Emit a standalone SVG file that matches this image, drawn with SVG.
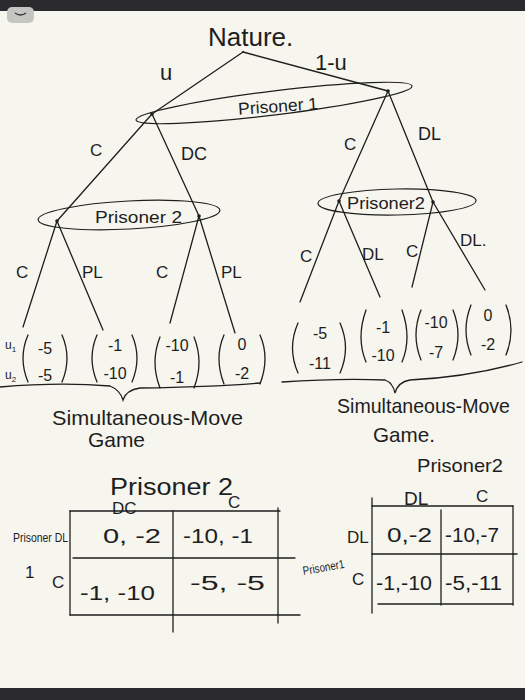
<svg xmlns="http://www.w3.org/2000/svg" width="525" height="700" viewBox="0 0 525 700">
<style>
  .ln{stroke:#1e1e1e;stroke-width:1.3;fill:none;stroke-linecap:round}
  .el{stroke:#1e1e1e;stroke-width:1.2;fill:none}
  .t{font-family:"Liberation Sans","DejaVu Sans",sans-serif;fill:#1e1e1e}
  .lbl{font-size:17px}
  .big{font-size:21px}
  .num{font-size:16px;text-anchor:middle}
  .cell{font-size:20px}
  .dot{fill:#1e1e1e}
</style>
<rect x="0" y="0" width="525" height="700" fill="#f6f5ee"/>
<rect x="0" y="0" width="525" height="11" fill="#2b2b2d"/>
<rect x="0" y="688" width="525" height="12" fill="#2b2b2d"/>
<rect x="7" y="7" width="27" height="16" rx="5" fill="#c5c5c2"/>
<path d="M15 13 Q20.5 17 26 13" stroke="#333" stroke-width="1.5" fill="none"/>

<g id="connectors">
  <line class="ln" x1="243" y1="52" x2="152" y2="114"/>
  <line class="ln" x1="243" y1="52" x2="388" y2="91"/>
  <line class="ln" x1="152" y1="114" x2="57" y2="221"/>
  <line class="ln" x1="152" y1="114" x2="199" y2="216"/>
  <line class="ln" x1="388" y1="91" x2="339" y2="201"/>
  <line class="ln" x1="388" y1="91" x2="433" y2="202"/>
  <line class="ln" x1="57" y1="221" x2="23" y2="327"/>
  <line class="ln" x1="57" y1="221" x2="103" y2="330"/>
  <line class="ln" x1="199" y1="216" x2="170" y2="323"/>
  <line class="ln" x1="199" y1="216" x2="235" y2="333"/>
  <line class="ln" x1="339" y1="201" x2="300" y2="302"/>
  <line class="ln" x1="339" y1="201" x2="380" y2="297"/>
  <line class="ln" x1="433" y1="202" x2="412" y2="287"/>
  <line class="ln" x1="433" y1="202" x2="485" y2="290"/>
  <text class="t" font-size="22" x="160" y="80">u</text>
  <text class="t" font-size="22" x="315" y="70">1-u</text>
  <text class="t lbl" x="90" y="156">C</text>
  <text class="t" font-size="18" x="181" y="160">DC</text>
  <text class="t lbl" x="344" y="150">C</text>
  <text class="t" font-size="18" x="418" y="140">DL</text>
  <text class="t lbl" x="16" y="278">C</text>
  <text class="t lbl" x="82" y="278">PL</text>
  <text class="t lbl" x="156" y="278">C</text>
  <text class="t lbl" x="221" y="278">PL</text>
  <text class="t lbl" x="300" y="262">C</text>
  <text class="t lbl" x="362" y="260">DL</text>
  <text class="t lbl" x="406" y="257">C</text>
  <text class="t lbl" x="460" y="246">DL.</text>
</g>

<g id="nature">
  <text class="t" font-size="26" x="208" y="46">Nature.</text>
  <circle class="dot" cx="243" cy="52" r="1"/>
</g>

<g id="prisoner1">
  <ellipse class="el" cx="274" cy="103" rx="139" ry="12" transform="rotate(-7 274 103)"/>
  <text class="t lbl" x="238" y="112" transform="rotate(-4 278 106)" textLength="80" lengthAdjust="spacingAndGlyphs">Prisoner 1</text>
  <circle class="dot" cx="152" cy="114" r="1.8"/>
  <circle class="dot" cx="388" cy="91" r="1.8"/>
</g>

<g id="prisoner2-left">
  <ellipse class="el" cx="129" cy="215" rx="91" ry="14" transform="rotate(-3 129 215)"/>
  <text class="t lbl" x="95" y="223" textLength="87" lengthAdjust="spacingAndGlyphs">Prisoner 2</text>
  <circle class="dot" cx="57" cy="221" r="1.8"/>
  <circle class="dot" cx="199" cy="216" r="1.8"/>
</g>

<g id="prisoner2-right">
  <ellipse class="el" cx="397" cy="202" rx="79" ry="13" transform="rotate(-1 397 202)"/>
  <text class="t lbl" x="347" y="209" textLength="78" lengthAdjust="spacingAndGlyphs">Prisoner2</text>
  <circle class="dot" cx="339" cy="201" r="1.8"/>
  <circle class="dot" cx="433" cy="202" r="1.8"/>
</g>

<g id="payoffs-left">
  <text class="t" font-size="12" x="5" y="349">u<tspan font-size="8" dy="3">1</tspan></text>
  <text class="t" font-size="12" x="5" y="379">u<tspan font-size="8" dy="3">2</tspan></text>
  <path class="ln" d="M28 335 Q18 358 28 382 M62 335 Q72 358 62 382"/>
  <text class="t num" x="45" y="354">-5</text>
  <text class="t num" x="45" y="381">-5</text>
  <path class="ln" d="M97 335 Q87 358 97 382 M132 335 Q142 358 132 382"/>
  <text class="t num" x="115" y="351">-1</text>
  <text class="t num" x="115" y="379">-10</text>
  <path class="ln" d="M160 337 Q150 362 160 388 M194 337 Q204 362 194 388"/>
  <text class="t num" x="177" y="351">-10</text>
  <text class="t num" x="177" y="383">-1</text>
  <path class="ln" d="M224 335 Q214 358 224 384 M260 335 Q270 358 260 384"/>
  <text class="t num" x="242" y="350">0</text>
  <text class="t num" x="242" y="379">-2</text>
  <path class="ln" d="M0 387 Q60 382 110 386 Q120 390 123 400 Q126 390 140 388 Q210 387 260 383"/>
  <text class="t big" x="52" y="425" textLength="191" lengthAdjust="spacingAndGlyphs">Simultaneous-Move</text>
  <text class="t big" x="88" y="447" textLength="57" lengthAdjust="spacingAndGlyphs">Game</text>
</g>

<g id="payoffs-right">
  <path class="ln" d="M298 323 Q287 348 298 373 M340 323 Q351 348 340 373"/>
  <text class="t num" x="320" y="339">-5</text>
  <text class="t num" x="320" y="369">-11</text>
  <path class="ln" d="M366 310 Q356 338 366 362 M402 310 Q412 338 402 362"/>
  <text class="t num" x="383" y="333">-1</text>
  <text class="t num" x="383" y="361">-10</text>
  <path class="ln" d="M421 310 Q411 335 421 360 M453 310 Q463 335 453 360"/>
  <text class="t num" x="436" y="328">-10</text>
  <text class="t num" x="436" y="358">-7</text>
  <path class="ln" d="M471 305 Q461 330 471 355 M506 305 Q516 330 506 355"/>
  <text class="t num" x="488" y="321">0</text>
  <text class="t num" x="488" y="350">-2</text>
  <path class="ln" d="M282 382 Q340 378 385 380 Q393 383 395 393 Q398 382 410 380 Q470 377 522 362"/>
  <text class="t big" x="337" y="413" textLength="173" lengthAdjust="spacingAndGlyphs">Simultaneous-Move</text>
  <text class="t big" x="373" y="442" textLength="62" lengthAdjust="spacingAndGlyphs">Game.</text>
</g>

<g id="table-left">
  <text class="t" font-size="23" x="110" y="495" textLength="123" lengthAdjust="spacingAndGlyphs">Prisoner 2</text>
  <text class="t lbl" x="112" y="514">DC</text>
  <text class="t lbl" x="228" y="508">C</text>
  <line class="ln" x1="70" y1="511" x2="280" y2="511"/>
  <line class="ln" x1="70" y1="511" x2="70" y2="615"/>
  <line class="ln" x1="173" y1="511" x2="173" y2="632"/>
  <line class="ln" x1="278" y1="508" x2="278" y2="623"/>
  <line class="ln" x1="73" y1="558" x2="295" y2="558"/>
  <line class="ln" x1="70" y1="615" x2="300" y2="615"/>
  <text class="t" font-size="13" x="13" y="542" textLength="55" lengthAdjust="spacingAndGlyphs">Prisoner DL</text>
  <text class="t lbl" x="25" y="578">1</text>
  <text class="t lbl" x="52" y="588">C</text>
  <text class="t cell" x="103" y="543" textLength="58" lengthAdjust="spacingAndGlyphs">0, -2</text>
  <text class="t cell" x="183" y="543" textLength="70" lengthAdjust="spacingAndGlyphs">-10, -1</text>
  <text class="t cell" x="80" y="600" textLength="75" lengthAdjust="spacingAndGlyphs">-1, -10</text>
  <text class="t cell" x="190" y="590" textLength="75" lengthAdjust="spacingAndGlyphs">-5, -5</text>
</g>

<g id="table-right">
  <text class="t" font-size="19" x="417" y="472" textLength="86" lengthAdjust="spacingAndGlyphs">Prisoner2</text>
  <text class="t" font-size="19" x="404" y="505">DL</text>
  <text class="t lbl" x="476" y="502">C</text>
  <line class="ln" x1="372" y1="506" x2="513" y2="506"/>
  <line class="ln" x1="372" y1="498" x2="372" y2="613"/>
  <line class="ln" x1="441" y1="510" x2="441" y2="605"/>
  <line class="ln" x1="513" y1="506" x2="513" y2="605"/>
  <line class="ln" x1="372" y1="554" x2="517" y2="554"/>
  <line class="ln" x1="378" y1="604" x2="513" y2="604"/>
  <text class="t" font-size="12" x="302" y="572" transform="rotate(-10 320 565)" textLength="42" lengthAdjust="spacingAndGlyphs">Prisoner1</text>
  <text class="t lbl" x="347" y="543">DL</text>
  <text class="t lbl" x="352" y="585">C</text>
  <text class="t cell" x="387" y="542" textLength="45" lengthAdjust="spacingAndGlyphs">0,-2</text>
  <text class="t cell" x="445" y="542" textLength="54" lengthAdjust="spacingAndGlyphs">-10,-7</text>
  <text class="t cell" x="376" y="590" textLength="56" lengthAdjust="spacingAndGlyphs">-1,-10</text>
  <text class="t cell" x="445" y="590" textLength="57" lengthAdjust="spacingAndGlyphs">-5,-11</text>
</g>
</svg>
